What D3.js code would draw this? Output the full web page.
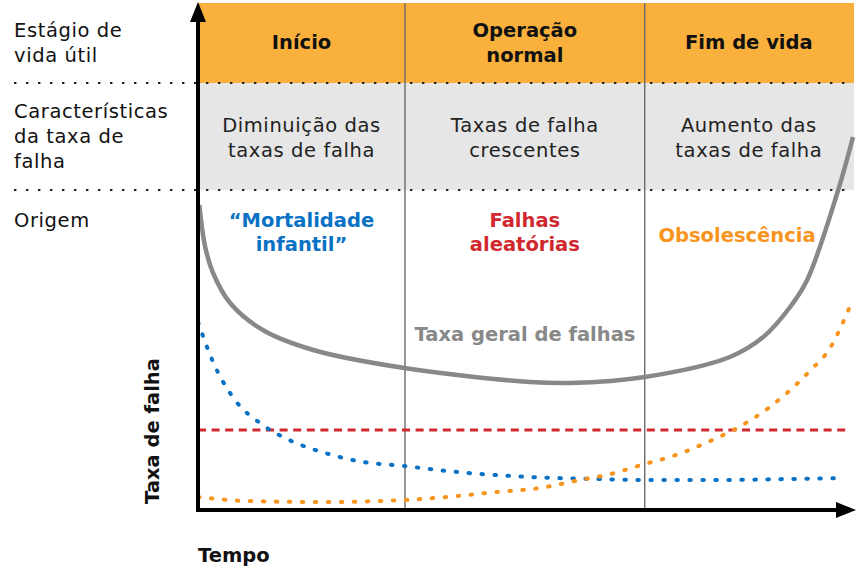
<!DOCTYPE html>
<html><head><meta charset="utf-8">
<script src="https://cdn.jsdelivr.net/npm/d3@7"></script>
<style>body{margin:0;background:#fff}svg{display:block}text{font-family:"DejaVu Sans",sans-serif;letter-spacing:0.6px}text.b{letter-spacing:0}</style>
</head><body><svg id="c" width="864" height="568"></svg>
<script>
// ---- data ----
const stages = ["Início", "Operação normal", "Fim de vida"];
const stageBounds = [0, 31.6, 68.2, 100];
const characteristics = [["Diminuição das","taxas de falha"],["Taxas de falha","crescentes"],["Aumento das","taxas de falha"]];
const rowLabels = [["Estágio de","vida útil"],["Características","da taxa de","falha"],["Origem"]];
const origins = [["“Mortalidade","infantil”"],["Falhas","aleatórias"],["Obsolescência"]];

const tTotal = [0.2, 1.1, 2.3, 4.9, 9.9, 17.6, 31.5, 50.7, 56.8, 68.2, 81.2, 86.3, 90.4, 93, 97.6, 100];
const total  = [61, 52.6, 47.4, 41.4, 36, 32, 28.4, 25.6, 25.4, 26.6, 30.6, 34.6, 40.6, 46, 63.4, 74.6];

const tInfant = [0, 2.3, 5.3, 9.9, 13.6, 19.4, 25.2, 31.5, 38, 50.7, 60.9, 68.2, 80, 90, 98.8];
const infant  = [37.6, 29.6, 22.6, 17, 14.2, 11.4, 9.6, 8.8, 7.8, 6.6, 6.2, 6, 6, 6.2, 6.4];

const tRandom = [0, 98.8];
const random  = [16, 16];

const tWear = [0, 7.5, 19, 31.5, 38, 45.6, 52.2, 58.3, 62.4, 68.2, 72.5, 78.2, 82.3, 87.3, 93.4, 96.5, 99.1, 100];
const wear  = [2.6, 1.8, 1.6, 2, 2.6, 3.6, 4.4, 6, 7, 9.2, 10.8, 13.8, 16.4, 20.6, 27.8, 32.4, 39.4, 42.2];

const axisX = "Tempo", axisY = "Taxa de falha", totalLabel = "Taxa geral de falhas";

// ---- layout ----
const FS = 19.5;
const svg = d3.select("#c");
const x = d3.scaleLinear().domain([0,100]).range([198, 853]);
const y = d3.scaleLinear().domain([0,100]).range([510, 10]);
const bandTop = 3, bandMid = 83, bandBot = 190, right = 854;

svg.append("rect").attr("x",198).attr("y",bandTop).attr("width",right-198).attr("height",bandMid-bandTop).attr("fill","#F9B03C");
svg.append("rect").attr("x",198).attr("y",bandMid).attr("width",right-198).attr("height",bandBot-bandMid).attr("fill","#E6E6E6");

svg.selectAll(".div").data(stageBounds.slice(1,3)).enter().append("line")
  .attr("x1",d=>x(d)).attr("x2",d=>x(d)).attr("y1",bandTop).attr("y2",510)
  .attr("stroke","#6b6b6b").attr("stroke-width",1.4);

[bandMid, bandBot].forEach(yy=>{
  svg.append("line").attr("x1",14).attr("x2",right).attr("y1",yy).attr("y2",yy)
    .attr("stroke","#222").attr("stroke-width",2.2).attr("stroke-dasharray","2.4 9.6");
});

const mid = i => x((stageBounds[i]+stageBounds[i+1])/2);

const rowY = [[37,62],[118,143,168],[227]];
rowLabels.forEach((lines,r)=>lines.forEach((l,k)=>{
  svg.append("text").attr("x",14).attr("y",rowY[r][k]).attr("font-size",FS).attr("fill","#111").text(l);
}));

const hdrY = [[49],[37,62],[49]];
stages.forEach((s,i)=>{
  const lines = i===1 ? ["Operação","normal"] : [s];
  lines.forEach((l,k)=>svg.append("text").attr("class","b").attr("x",mid(i)).attr("y",hdrY[i][k]).attr("text-anchor","middle")
    .attr("font-size",FS).attr("font-weight",700).attr("fill","#111").text(l));
});
characteristics.forEach((lines,i)=>lines.forEach((l,k)=>{
  svg.append("text").attr("x",mid(i)).attr("y",132+k*25).attr("text-anchor","middle")
    .attr("font-size",FS).attr("fill","#222").text(l);
}));

const line = d3.line().x(d=>x(d[0])).y(d=>y(d[1])).curve(d3.curveMonotoneX);
const zip = (a,b)=>a.map((v,i)=>[v,b[i]]);
svg.append("path").attr("d",d3.line().x(d=>x(d[0])).y(d=>y(d[1])).curve(d3.curveCatmullRom.alpha(0.5))(zip(tTotal,total)))
  .attr("fill","none").attr("stroke","#888").attr("stroke-width",4.5);
svg.append("path").attr("d",line(zip(tRandom,random))).attr("fill","none").attr("stroke","#D0282E").attr("stroke-width",3).attr("stroke-dasharray","8 5.6");
svg.append("path").attr("d",line(zip(tInfant,infant))).attr("fill","none").attr("stroke","#0A72C4").attr("stroke-width",4).attr("stroke-linecap","round").attr("stroke-dasharray","1.5 11.5");
svg.append("path").attr("d",line(zip(tWear,wear))).attr("fill","none").attr("stroke","#F7941D").attr("stroke-width",4).attr("stroke-linecap","round").attr("stroke-dasharray","1.5 11.5");

const oCol = ["#0A72C4","#D0282E","#F7941D"];
const oY = [[227,251],[227,251],[242]];
const oX = [mid(0), mid(1), 737];
origins.forEach((lines,i)=>lines.forEach((l,k)=>{
  svg.append("text").attr("class","b").attr("x",oX[i]).attr("y",oY[i][k]).attr("text-anchor","middle")
    .attr("font-size",FS).attr("font-weight",700).attr("fill",oCol[i]).text(l);
}));
svg.append("text").attr("class","b").attr("x",525).attr("y",341).attr("text-anchor","middle").attr("font-size",FS)
  .attr("font-weight",700).attr("fill","#888").text(totalLabel);

svg.append("line").attr("x1",198).attr("x2",198).attr("y1",18).attr("y2",512).attr("stroke","#000").attr("stroke-width",4);
svg.append("line").attr("x1",196).attr("x2",840).attr("y1",510).attr("y2",510).attr("stroke","#000").attr("stroke-width",4);
svg.append("path").attr("d","M198,2 L190,22 L206,22 Z").attr("fill","#000");
svg.append("path").attr("d","M856,510 L836,502 L836,518 Z").attr("fill","#000");

svg.append("text").attr("class","b").attr("x",198).attr("y",562).attr("font-size",FS).attr("font-weight",700).attr("fill","#111").text(axisX);
svg.append("text").attr("class","b").attr("transform","translate(159,431) rotate(-90)").attr("text-anchor","middle")
  .attr("font-size",FS).attr("font-weight",700).attr("fill","#111").text(axisY);
</script></body></html>
